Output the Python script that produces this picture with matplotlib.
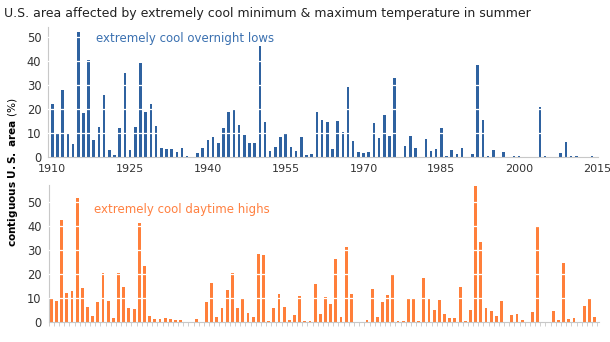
import numpy as np
import matplotlib
matplotlib.use("Agg")
import matplotlib.pyplot as plt

years = np.arange(1910, 2016)

# percent of contiguous U.S. area, extremely cool overnight lows (summer)
cool_lows = [
    22, 10, 28, 10, 5.5, 52, 18.5, 40.5, 7, 12.5,
    26, 3, 1, 12, 35, 3, 12.5, 39, 19, 22,
    13, 4, 3.3, 3.3, 2, 4, 0.7, 0.3, 1.8, 3.7,
    7, 8.3, 5.9, 12.2, 18.6, 19.8, 13.5, 9.1, 5.9, 5.9,
    46.3, 14.8, 2.8, 4.3, 8.3, 9.5, 4.1, 2.8, 8.6, 1,
    1.4, 18.8, 15.5, 14.6, 3.3, 14.9, 10.6, 29.1, 6.6, 2.1,
    1.8, 2.2, 14.2, 7.9, 17.4, 8.7, 33.1, 0.3, 4.6, 8.7,
    3.9, 0.3, 7.7, 2.8, 3.6, 12.2, 0.6, 2.9, 1.4, 4.0,
    0.3, 1.4, 38.5, 15.6, 0.5, 3.2, 0.2, 2.4, 0.1, 0.5,
    0.5, 0.3, 0, 0, 20.9, 0.7, 0, 0.2, 1.7, 6.2,
    0.5, 0.5, 0.3, 0.3, 0.7, 0.3,
]

# percent of contiguous U.S. area, extremely cool daytime highs (summer)
cool_highs = [
    9.9, 8.8, 42.6, 12.4, 12.9, 51.7, 14.3, 6.2, 2.5, 8.5,
    20.4, 8.9, 1.8, 20.4, 14.9, 5.8, 5.4, 41.5, 23.5, 2.5,
    1.25, 1.25, 1.8, 1.25, 0.8, 0.8, 0, 0, 1.4, 0,
    8.6, 16.5, 2.4, 6.1, 13.5, 20.4, 5.8, 10.3, 3.7, 2.2,
    28.6, 27.9, 0.4, 6.1, 11.8, 6.2, 0.8, 3.2, 10.8, 0.4,
    0.4, 16, 3.3, 10.6, 7.6, 26.2, 2.4, 31.2, 11.7, 0,
    0.3, 0.8, 13.9, 2.4, 8.6, 11.2, 19.6, 0.4, 0.4, 9.7,
    9.7, 0.7, 18.5, 9.7, 5, 9.2, 3.5, 1.8, 1.8, 14.9,
    0.4, 5, 56.8, 33.5, 5.8, 4.7, 2.5, 8.9, 0.3, 3.1,
    3.5, 1.1, 0.3, 4.2, 40.1, 0, 0, 4.7, 0.8, 24.6,
    1.4, 1.7, 0.3, 6.9, 9.7, 2.1,
]

year_ticks = [1910, 1925, 1940, 1955, 1970, 1985, 2000, 2015]
y_ticks = [0, 10, 20, 30, 40, 50]

blue = "#2f62a0"
orange = "#ff7f3a"
axis_gray = "#c8c8c8"
text_gray = "#333333"

plt.rcParams["font.family"] = ["DejaVu Sans"]

fig = plt.figure(figsize=(6.1, 3.42), dpi=100)

W, H = 610.0, 342.0


def px_axes(left, top, right, bottom):
    return fig.add_axes([left / W, 1 - bottom / H, (right - left) / W, (bottom - top) / H])


def style(ax, ymax, xlim):
    ax.set_xlim(*xlim)
    ax.set_ylim(0, ymax)
    for s in ["top", "right"]:
        ax.spines[s].set_visible(False)
    ax.spines["left"].set_color(axis_gray)
    ax.spines["bottom"].set_color(axis_gray)
    ax.spines["left"].set_linewidth(0.8)
    ax.spines["bottom"].set_linewidth(0.8)
    ax.set_yticks(y_ticks)
    ax.tick_params(axis="y", length=0, labelsize=8.3, colors=text_gray, pad=5)
    # white gridlines cutting through the bars
    for v in y_ticks[1:]:
        ax.axhline(v, color="white", lw=0.9, zorder=3)


# top panel: overnight lows
ax1 = px_axes(48.3, 26.7, 598.3, 157.3)
ax1.bar(years, cool_lows, width=0.5, color=blue, zorder=2)
style(ax1, 54.2, (1909.23, 2015.25))
ax1.set_xticks(year_ticks)
ax1.tick_params(axis="x", length=0, labelsize=8, colors=text_gray, pad=5)
ax1.text(0.087, 0.91, "extremely cool overnight lows", transform=ax1.transAxes,
         color="#3a70b0", fontsize=8.5, va="center", ha="left")

# bottom panel: daytime highs
ax2 = px_axes(48.7, 185.0, 599.3, 322.3)
ax2.bar(years, cool_highs, width=0.55, color=orange, zorder=2)
style(ax2, 57.2, (1909.61, 2015.9))
ax2.set_xticks(np.arange(1909.5, 2016, 1.0))
ax2.set_xticklabels([])
ax2.tick_params(axis="x", length=3, width=0.6, color=axis_gray, direction="out")
ax2.text(0.083, 0.82, "extremely cool daytime highs", transform=ax2.transAxes,
         color="#ff8040", fontsize=8.5, va="center", ha="left")

fig.text(4 / W, 1 - 13 / H, "U.S. area affected by extremely cool minimum & maximum temperature in summer",
         fontsize=9.0, color="#222222", ha="left", va="center")
fig.text(13 / W, 1 - 172 / H, r"$\bf{contiguous\ U.S.\ area}$ (%)", rotation=90, fontsize=7.6,
         color="black", ha="center", va="center")

fig.savefig("out.png", dpi=100)
